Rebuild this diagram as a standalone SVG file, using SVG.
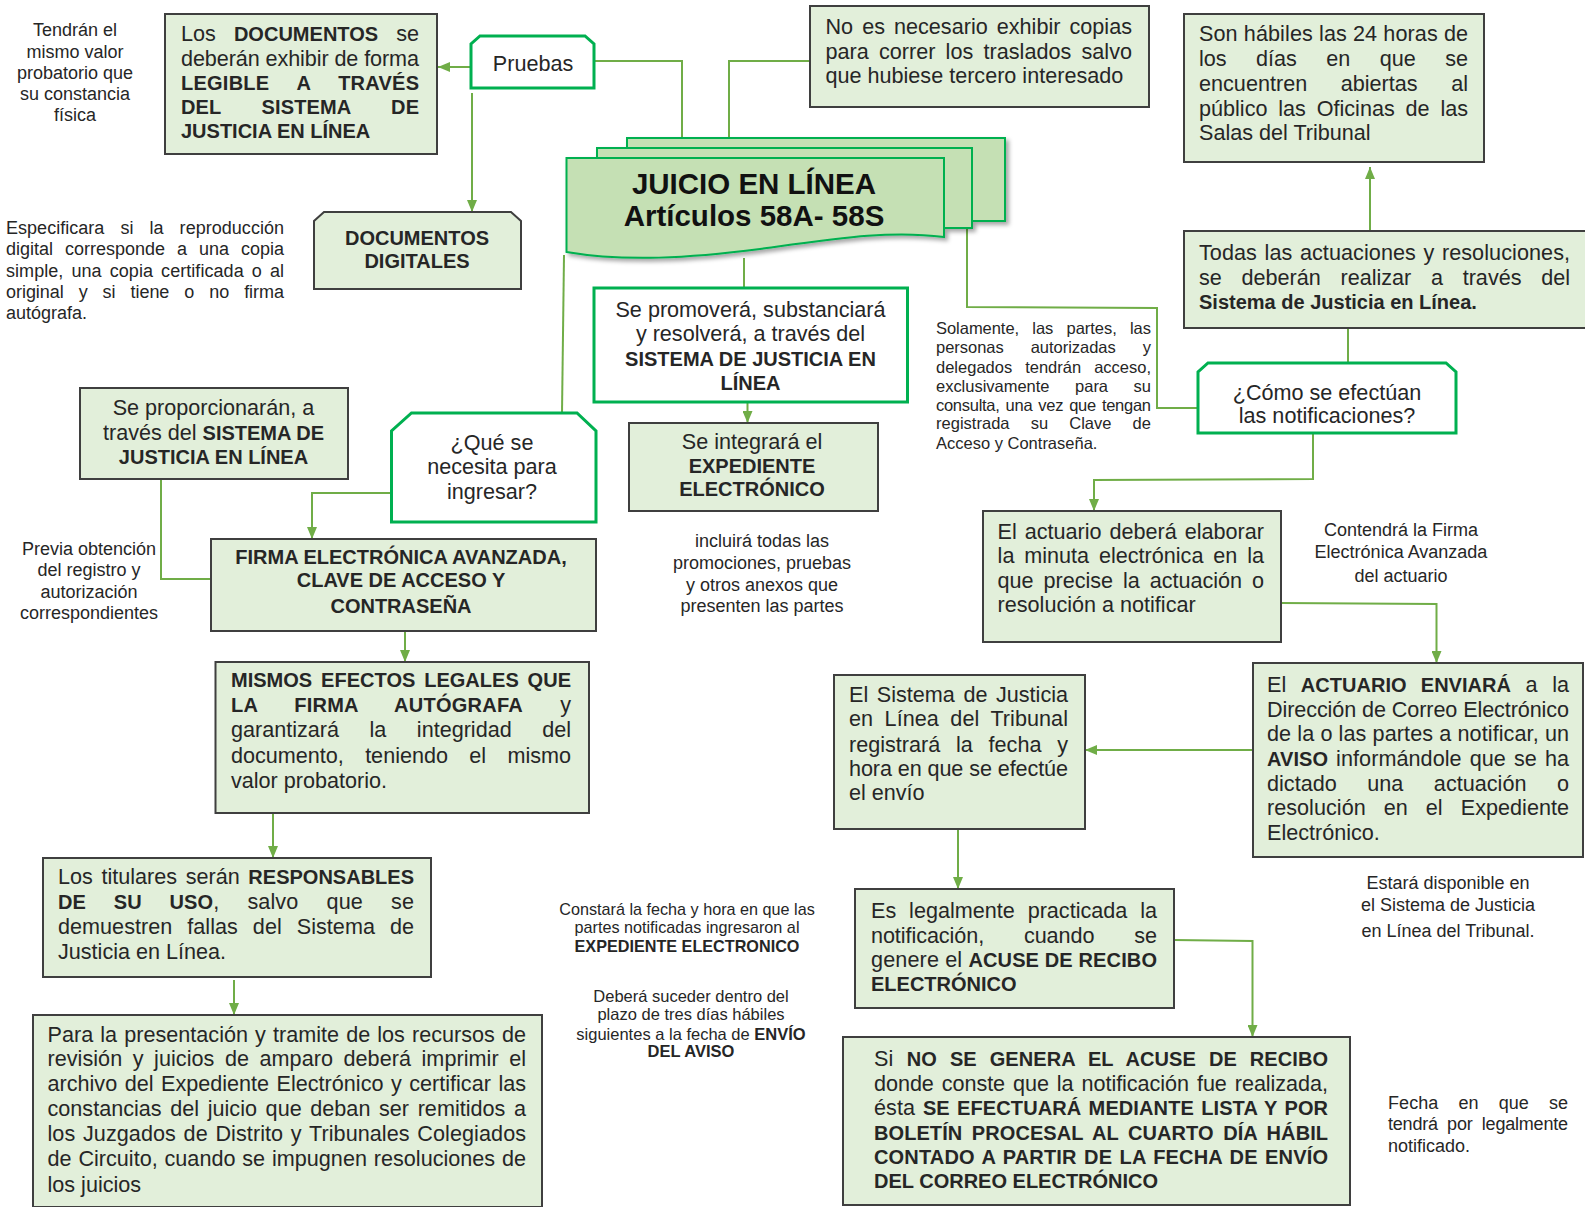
<svg xmlns="http://www.w3.org/2000/svg" width="1585" height="1207" viewBox="0 0 1585 1207">
  <defs>
    <style>
      .box { fill: #E2EFDA; stroke: #3F3F3F; stroke-width: 2; }
      .gbox { fill: #FFFFFF; stroke: #00B050; stroke-width: 3; }
      .sheet { fill: #C5E0B4; stroke: #00B050; stroke-width: 2; }
      .link { fill: none; stroke: #70AD47; stroke-width: 2; }
      .arrow { marker-end: url(#ah); }
      text { font-family: "Liberation Sans", Arial, sans-serif; fill: #262626; }
      .t { font-size: 21.6px; }
      .b { font-weight: bold; font-size: 20px; }
      .s18 { font-size: 18px; }
      .s165 { font-size: 16.5px; }
      .s16 { font-size: 16.2px; }
      .c { text-anchor: middle; }
      .title { font-weight: bold; font-size: 29.5px; text-anchor: middle; fill: #111; }
    </style>
    <marker id="ah" markerWidth="12" markerHeight="10" refX="12" refY="5" orient="auto" markerUnits="userSpaceOnUse">
      <path d="M0,0 L12,5 L0,10 Z" fill="#70AD47"/>
    </marker>
    <filter id="shadow" x="-5%" y="-10%" width="115%" height="130%">
      <feDropShadow dx="3" dy="3" stdDeviation="2" flood-color="#000" flood-opacity="0.35"/>
    </filter>
  </defs>

  <rect width="1585" height="1207" fill="#FFFFFF"/>

  <!-- connectors -->
  <g id="connectors">
    <path class="link arrow" d="M471,67 H438"/>
    <path class="link arrow" d="M472,93 V212"/>
    <path class="link" d="M594,61 H682 V138"/>
    <path class="link" d="M810,61 H729 V138"/>
    <path class="link" d="M744,258 V288"/>
    <path class="link arrow" d="M747.5,403 V423"/>
    <path class="link" d="M564,255 L562,413"/>
    <path class="link arrow" d="M391.5,493 H312 V539"/>
    <path class="link" d="M161,479 V579 H211"/>
    <path class="link arrow" d="M405,632 V662"/>
    <path class="link arrow" d="M273,814 V858"/>
    <path class="link arrow" d="M234,980 V1015"/>
    <path class="link" d="M967,229 V307 L1157,308 V408 H1198"/>
    <path class="link arrow" d="M1370,231 V167"/>
    <path class="link" d="M1348,328 V363"/>
    <path class="link arrow" d="M1313,434 V479 L1094,480 V511"/>
    <path class="link arrow" d="M1281,603 L1436.5,604 V663"/>
    <path class="link arrow" d="M1253,750 H1085"/>
    <path class="link arrow" d="M958,830 V889"/>
    <path class="link arrow" d="M1174,940 L1252.5,941 V1037"/>
  </g>

  <!-- central title: stacked document sheets -->
  <g id="juicio-en-linea">
    <g filter="url(#shadow)">
      <rect class="sheet" x="627" y="138" width="378" height="83"/>
      <rect class="sheet" x="597" y="148" width="375" height="80"/>
      <path class="sheet" d="M566.5,158 H944 V237 C890,230 840,238 760,249 C690,258 625,262 566.5,252 Z"/>
    </g>
    <text class="title" x="754" y="193.5">JUICIO EN LÍNEA</text>
    <text class="title" x="754" y="226">Artículos 58A- 58S</text>
  </g>

  <g id="tendran-nota">
    <text class="s18 c" x="75" y="36">Tendrán el</text>
    <text class="s18 c" x="75" y="57.5">mismo valor</text>
    <text class="s18 c" x="75" y="79">probatorio que</text>
    <text class="s18 c" x="75" y="100">su constancia</text>
    <text class="s18 c" x="75" y="121">física</text>
  </g>

  <g id="documentos-legible">
    <rect class="box" x="165" y="14" width="272" height="140"/>
    <text class="t" x="181" y="41" textLength="238" lengthAdjust="spacing" style="word-spacing:12px">Los <tspan class="b">DOCUMENTOS</tspan> se</text>
    <text class="t" x="181" y="65.5" textLength="238" lengthAdjust="spacing">deberán exhibir de forma</text>
    <text class="b" x="181" y="90" textLength="238" lengthAdjust="spacing" style="word-spacing:22px">LEGIBLE A TRAVÉS</text>
    <text class="b" x="181" y="114" textLength="238" lengthAdjust="spacing" style="word-spacing:35px">DEL SISTEMA DE</text>
    <text class="b" x="181" y="138">JUSTICIA EN LÍNEA</text>
  </g>

  <g id="pruebas">
    <path class="gbox" d="M480,36 H585 L594,44 V88 H471 V44 Z"/>
    <text class="t c" x="533" y="71">Pruebas</text>
  </g>

  <g id="documentos-digitales">
    <path class="box" d="M324,212 H511 L521,221 V289 H314 V221 Z"/>
    <text class="b c" x="417" y="245">DOCUMENTOS</text>
    <text class="b c" x="417" y="268">DIGITALES</text>
  </g>

  <g id="especificara-nota">
    <text class="s18" x="6" y="233.5" textLength="278" lengthAdjust="spacing" style="word-spacing:11px">Especificara si la reproducción</text>
    <text class="s18" x="6" y="255" textLength="278" lengthAdjust="spacing" style="word-spacing:7px">digital corresponde a una copia</text>
    <text class="s18" x="6" y="277" textLength="278" lengthAdjust="spacing" style="word-spacing:3px">simple, una copia certificada o al</text>
    <text class="s18" x="6" y="298" textLength="278" lengthAdjust="spacing" style="word-spacing:10px">original y si tiene o no firma</text>
    <text class="s18" x="6" y="319">autógrafa.</text>
  </g>

  <g id="copias-traslados">
    <rect class="box" x="810" y="6" width="339" height="101"/>
    <text class="t" x="825.5" y="34" textLength="306.5" lengthAdjust="spacing" style="word-spacing:3px">No es necesario exhibir copias</text>
    <text class="t" x="825.5" y="58.5" textLength="306.5" lengthAdjust="spacing" style="word-spacing:4px">para correr los traslados salvo</text>
    <text class="t" x="825.5" y="83">que hubiese tercero interesado</text>
  </g>

  <g id="horas-habiles">
    <rect class="box" x="1184" y="14" width="300" height="148"/>
    <text class="t" x="1199" y="41" textLength="269" lengthAdjust="spacing">Son hábiles las 24 horas de</text>
    <text class="t" x="1199" y="66" textLength="269" lengthAdjust="spacing" style="word-spacing:23.5px">los días en que se</text>
    <text class="t" x="1199" y="90.5" textLength="269" lengthAdjust="spacing" style="word-spacing:27.5px">encuentren abiertas al</text>
    <text class="t" x="1199" y="115.5" textLength="269" lengthAdjust="spacing" style="word-spacing:4.8px">público las Oficinas de las</text>
    <text class="t" x="1199" y="140">Salas del Tribunal</text>
  </g>

  <g id="actuaciones">
    <rect class="box" x="1184" y="231" width="403" height="97"/>
    <text class="t" x="1199" y="260" textLength="371" lengthAdjust="spacing" style="word-spacing:1.5px">Todas las actuaciones y resoluciones,</text>
    <text class="t" x="1199" y="284.5" textLength="371" lengthAdjust="spacing" style="word-spacing:13.7px">se deberán realizar a través del</text>
    <text class="b" x="1199" y="309">Sistema de Justicia en Línea.</text>
  </g>

  <g id="se-promovera">
    <rect class="gbox" x="594" y="288" width="313.5" height="114"/>
    <text class="t c" x="750.5" y="317">Se promoverá, substanciará</text>
    <text class="t c" x="750.5" y="341">y resolverá, a través del</text>
    <text class="b c" x="750.5" y="365.5">SISTEMA DE JUSTICIA EN</text>
    <text class="b c" x="750.5" y="389.5">LÍNEA</text>
  </g>

  <g id="expediente">
    <rect class="box" x="629" y="423" width="249" height="88"/>
    <text class="t c" x="752" y="449">Se integrará el</text>
    <text class="b c" x="752" y="472.5">EXPEDIENTE</text>
    <text class="b c" x="752" y="495.5">ELECTRÓNICO</text>
  </g>

  <g id="incluira-nota">
    <text class="s18 c" x="762" y="547">incluirá todas las</text>
    <text class="s18 c" x="762" y="569">promociones, pruebas</text>
    <text class="s18 c" x="762" y="591">y otros anexos que</text>
    <text class="s18 c" x="762" y="611.5">presenten las partes</text>
  </g>

  <g id="acceso-nota">
    <text class="s165" x="936" y="334" textLength="215" lengthAdjust="spacing" style="word-spacing:8.7px">Solamente, las partes, las</text>
    <text class="s165" x="936" y="353" textLength="215" lengthAdjust="spacing" style="word-spacing:22.5px">personas autorizadas y</text>
    <text class="s165" x="936" y="372.5" textLength="215" lengthAdjust="spacing" style="word-spacing:8.4px">delegados tendrán acceso,</text>
    <text class="s165" x="936" y="391.5" textLength="215" lengthAdjust="spacing" style="word-spacing:21px">exclusivamente para su</text>
    <text class="s165" x="936" y="410.5" textLength="215" lengthAdjust="spacing" style="word-spacing:1.7px">consulta, una vez que tengan</text>
    <text class="s165" x="936" y="429" textLength="215" lengthAdjust="spacing" style="word-spacing:16.5px">registrada su Clave de</text>
    <text class="s165" x="936" y="449">Acceso y Contraseña.</text>
  </g>

  <g id="como-notificaciones">
    <path class="gbox" d="M1208,363 H1446 L1456,372 V433 H1198 V372 Z"/>
    <text class="t c" x="1327" y="400">¿Cómo se efectúan</text>
    <text class="t c" x="1327" y="423">las notificaciones?</text>
  </g>

  <g id="se-proporcionaran">
    <rect class="box" x="80" y="388" width="268" height="91"/>
    <text class="t c" x="213.5" y="415">Se proporcionarán, a</text>
    <text class="t c" x="213.5" y="440">través del <tspan class="b">SISTEMA DE</tspan></text>
    <text class="b c" x="213.5" y="463.5">JUSTICIA EN LÍNEA</text>
  </g>

  <g id="que-se-necesita">
    <path class="gbox" d="M411.5,413 H577 L596,431 V522 H391.5 V431 Z"/>
    <text class="t c" x="492" y="450">¿Qué se</text>
    <text class="t c" x="492" y="474">necesita para</text>
    <text class="t c" x="492" y="499">ingresar?</text>
  </g>

  <g id="previa-nota">
    <text class="s18 c" x="89" y="555">Previa obtención</text>
    <text class="s18 c" x="89" y="576">del registro y</text>
    <text class="s18 c" x="89" y="598">autorización</text>
    <text class="s18 c" x="89" y="619">correspondientes</text>
  </g>

  <g id="firma-electronica">
    <rect class="box" x="211" y="539" width="385" height="92"/>
    <text class="b c" x="401" y="564">FIRMA ELECTRÓNICA AVANZADA,</text>
    <text class="b c" x="401" y="587">CLAVE DE ACCESO Y</text>
    <text class="b c" x="401" y="612.5">CONTRASEÑA</text>
  </g>

  <g id="mismos-efectos">
    <rect class="box" x="215.5" y="662" width="373.5" height="151"/>
    <text class="b" x="231" y="686.5" textLength="340" lengthAdjust="spacing" style="word-spacing:3.3px">MISMOS EFECTOS LEGALES QUE</text>
    <text class="t" x="231" y="712" textLength="340" lengthAdjust="spacing" style="word-spacing:31px"><tspan class="b">LA FIRMA AUTÓGRAFA</tspan> y</text>
    <text class="t" x="231" y="736.5" textLength="340" lengthAdjust="spacing" style="word-spacing:24.5px">garantizará la integridad del</text>
    <text class="t" x="231" y="762.5" textLength="340" lengthAdjust="spacing" style="word-spacing:15.3px">documento, teniendo el mismo</text>
    <text class="t" x="231" y="787.5">valor probatorio.</text>
  </g>

  <g id="responsables">
    <rect class="box" x="43" y="858" width="388" height="119"/>
    <text class="t" x="58" y="884" textLength="356" lengthAdjust="spacing" style="word-spacing:2.6px">Los titulares serán <tspan class="b">RESPONSABLES</tspan></text>
    <text class="t" x="58" y="909" textLength="356" lengthAdjust="spacing" style="word-spacing:22px"><tspan class="b">DE SU USO</tspan>, salvo que se</text>
    <text class="t" x="58" y="933.5" textLength="356" lengthAdjust="spacing" style="word-spacing:9px">demuestren fallas del Sistema de</text>
    <text class="t" x="58" y="958.5">Justicia en Línea.</text>
  </g>

  <g id="recursos-amparo">
    <rect class="box" x="33" y="1015" width="509" height="192"/>
    <text class="t" x="47.5" y="1041.5" textLength="478.5" lengthAdjust="spacing" style="word-spacing:1px">Para la presentación y tramite de los recursos de</text>
    <text class="t" x="47.5" y="1066" textLength="478.5" lengthAdjust="spacing" style="word-spacing:4.5px">revisión y juicios de amparo deberá imprimir el</text>
    <text class="t" x="47.5" y="1091" textLength="478.5" lengthAdjust="spacing" style="word-spacing:1.5px">archivo del Expediente Electrónico y certificar las</text>
    <text class="t" x="47.5" y="1115.5" textLength="478.5" lengthAdjust="spacing" style="word-spacing:2.6px">constancias del juicio que deban ser remitidos a</text>
    <text class="t" x="47.5" y="1140.5" textLength="478.5" lengthAdjust="spacing" style="word-spacing:1.6px">los Juzgados de Distrito y Tribunales Colegiados</text>
    <text class="t" x="47.5" y="1166" textLength="478.5" lengthAdjust="spacing" style="word-spacing:0.9px">de Circuito, cuando se impugnen resoluciones de</text>
    <text class="t" x="47.5" y="1191.5">los juicios</text>
  </g>

  <g id="actuario-minuta">
    <rect class="box" x="983" y="511" width="298" height="131"/>
    <text class="t" x="997.6" y="538.5" textLength="266.4" lengthAdjust="spacing" style="word-spacing:2px">El actuario deberá elaborar</text>
    <text class="t" x="997.6" y="563" textLength="266.4" lengthAdjust="spacing" style="word-spacing:3.9px">la minuta electrónica en la</text>
    <text class="t" x="997.6" y="587.5" textLength="266.4" lengthAdjust="spacing" style="word-spacing:3.9px">que precise la actuación o</text>
    <text class="t" x="997.6" y="612">resolución a notificar</text>
  </g>

  <g id="firma-actuario-nota">
    <text class="s18 c" x="1401" y="536">Contendrá la Firma</text>
    <text class="s18 c" x="1401" y="558">Electrónica Avanzada</text>
    <text class="s18 c" x="1401" y="582">del actuario</text>
  </g>

  <g id="actuario-enviara">
    <rect class="box" x="1253" y="663" width="330" height="194"/>
    <text class="t" x="1267" y="692" textLength="302" lengthAdjust="spacing" style="word-spacing:8.5px">El <tspan class="b">ACTUARIO ENVIARÁ</tspan> a la</text>
    <text class="t" x="1267" y="716.5" textLength="302" lengthAdjust="spacing">Dirección de Correo Electrónico</text>
    <text class="t" x="1267" y="741" textLength="302" lengthAdjust="spacing">de la o las partes a notificar, un</text>
    <text class="t" x="1267" y="765.5" textLength="302" lengthAdjust="spacing" style="word-spacing:2px"><tspan class="b">AVISO</tspan> informándole que se ha</text>
    <text class="t" x="1267" y="790.5" textLength="302" lengthAdjust="spacing" style="word-spacing:24.5px">dictado una actuación o</text>
    <text class="t" x="1267" y="815" textLength="302" lengthAdjust="spacing" style="word-spacing:12px">resolución en el Expediente</text>
    <text class="t" x="1267" y="840">Electrónico.</text>
  </g>

  <g id="sistema-registrara">
    <rect class="box" x="834" y="675" width="251" height="154"/>
    <text class="t" x="849" y="702" textLength="219" lengthAdjust="spacing" style="word-spacing:2.6px">El Sistema de Justicia</text>
    <text class="t" x="849" y="726" textLength="219" lengthAdjust="spacing" style="word-spacing:5.4px">en Línea del Tribunal</text>
    <text class="t" x="849" y="751.5" textLength="219" lengthAdjust="spacing" style="word-spacing:9.8px">registrará la fecha y</text>
    <text class="t" x="849" y="775.5" textLength="219" lengthAdjust="spacing">hora en que se efectúe</text>
    <text class="t" x="849" y="800">el envío</text>
  </g>

  <g id="disponible-nota">
    <text class="s18 c" x="1448" y="889">Estará disponible en</text>
    <text class="s18 c" x="1448" y="911">el Sistema de Justicia</text>
    <text class="s18 c" x="1448" y="937">en Línea del Tribunal.</text>
  </g>

  <g id="constara-nota">
    <text class="s16 c" x="687" y="915">Constará la fecha y hora en que las</text>
    <text class="s16 c" x="687" y="933">partes notificadas ingresaron al</text>
    <text class="s16 c" x="687" y="952"><tspan font-weight="bold">EXPEDIENTE ELECTRONICO</tspan></text>
  </g>

  <g id="plazo-nota">
    <text class="s165 c" x="691" y="1002">Deberá suceder dentro del</text>
    <text class="s165 c" x="691" y="1020">plazo de tres días hábiles</text>
    <text class="s165 c" x="691" y="1040">siguientes a la fecha de <tspan font-weight="bold">ENVÍO</tspan></text>
    <text class="s165 c" x="691" y="1057" font-weight="bold">DEL AVISO</text>
  </g>

  <g id="legalmente-practicada">
    <rect class="box" x="855" y="889" width="319" height="119"/>
    <text class="t" x="871" y="917.5" textLength="286" lengthAdjust="spacing" style="word-spacing:6.9px">Es legalmente practicada la</text>
    <text class="t" x="871" y="942.5" textLength="286" lengthAdjust="spacing" style="word-spacing:34px">notificación, cuando se</text>
    <text class="t" x="871" y="966.5" textLength="286" lengthAdjust="spacing">genere el <tspan class="b">ACUSE DE RECIBO</tspan></text>
    <text class="b" x="871" y="991">ELECTRÓNICO</text>
  </g>

  <g id="sin-acuse">
    <rect class="box" x="843" y="1037" width="507" height="168"/>
    <text class="t" x="874" y="1066" textLength="454" lengthAdjust="spacing" style="word-spacing:7.3px">Si <tspan class="b">NO SE GENERA EL ACUSE DE RECIBO</tspan></text>
    <text class="t" x="874" y="1090.5" textLength="454" lengthAdjust="spacing" style="word-spacing:2px">donde conste que la notificación fue realizada,</text>
    <text class="t" x="874" y="1115" textLength="454" lengthAdjust="spacing" style="word-spacing:1.6px">ésta <tspan class="b">SE EFECTUARÁ MEDIANTE LISTA Y POR</tspan></text>
    <text class="b" x="874" y="1139.5" textLength="454" lengthAdjust="spacing" style="word-spacing:3.9px">BOLETÍN PROCESAL AL CUARTO DÍA HÁBIL</text>
    <text class="b" x="874" y="1164" textLength="454" lengthAdjust="spacing" style="word-spacing:1.7px">CONTADO A PARTIR DE LA FECHA DE ENVÍO</text>
    <text class="b" x="874" y="1188">DEL CORREO ELECTRÓNICO</text>
  </g>

  <g id="fecha-nota">
    <text class="s18" x="1388" y="1109" textLength="180" lengthAdjust="spacing" style="word-spacing:15px">Fecha en que se</text>
    <text class="s18" x="1388" y="1130" textLength="180" lengthAdjust="spacing" style="word-spacing:4.5px">tendrá por legalmente</text>
    <text class="s18" x="1388" y="1152">notificado.</text>
  </g>
</svg>
